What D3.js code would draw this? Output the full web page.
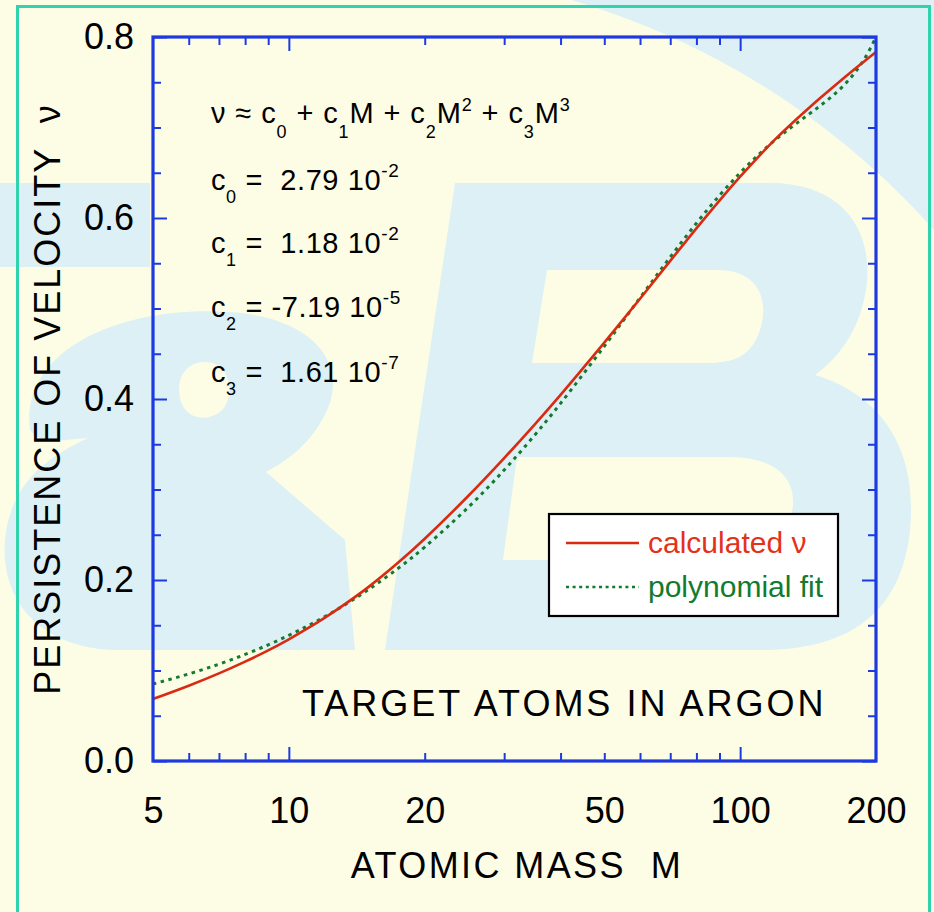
<!DOCTYPE html>
<html>
<head>
<meta charset="utf-8">
<script src="https://cdn.jsdelivr.net/npm/d3@7"></script>
<style>
  html, body { margin: 0; padding: 0; background: #fdfde6; }
  svg { display: block; }
  text { font-family: "Liberation Sans", Arial, Helvetica, sans-serif; white-space: pre; }
</style>
</head>
<body>
<script>
// ---- data -------------------------------------------------------------
// atomic mass of the target atom (log axis)
const massCalc = [5, 6, 7, 8, 9, 10, 11, 12, 13, 15, 17.5, 20, 25, 30, 35, 40, 50, 60, 70, 80, 90, 100, 110, 120, 130, 140, 150, 160, 170, 180, 190, 200];
// calculated persistence of velocity
const nuCalc = [0.0685, 0.0832, 0.0968, 0.1098, 0.1222, 0.1345, 0.1465, 0.1582, 0.1697, 0.1921, 0.2195, 0.2456, 0.2931, 0.3347, 0.3715, 0.4046, 0.4623, 0.5108, 0.5526, 0.5886, 0.6193, 0.6456, 0.6682, 0.6877, 0.7042, 0.7188, 0.7320, 0.7440, 0.7550, 0.7652, 0.7746, 0.7833];
// cubic polynomial fit, tabulated at the same masses
const nuFit = [0.0851, 0.0962, 0.1070, 0.1178, 0.1284, 0.1389, 0.1492, 0.1594, 0.1695, 0.1893, 0.2132, 0.2364, 0.2805, 0.3215, 0.3597, 0.3952, 0.4583, 0.5118, 0.5568, 0.5942, 0.6249, 0.6499, 0.6702, 0.6868, 0.7005, 0.7124, 0.7235, 0.7347, 0.7470, 0.7613, 0.7786, 0.7999];

const xLabelTicks = [5, 10, 20, 50, 100, 200];
const xMajorTicks = [10, 100];
const xMinorTicks = [6, 7, 8, 9, 20, 30, 40, 50, 60, 70, 80, 90];
const yLabelTicks = [0, 0.2, 0.4, 0.6, 0.8];
const yMinorTicks = [0.05, 0.1, 0.15, 0.25, 0.3, 0.35, 0.45, 0.5, 0.55, 0.65, 0.7, 0.75];

const coefNames = ["0", "1", "2", "3"];
const coefMantissa = [" 2.79", " 1.18", "-7.19", " 1.61"];
const coefExponent = ["-2", "-2", "-5", "-7"];

// ---- layout -----------------------------------------------------------
const W = 934, H = 912;
const plot = { left: 153, right: 876, top: 37, bottom: 761 };
const FONT = '"Liberation Sans", Arial, Helvetica, sans-serif';
const frameBlue = "#1d3ae0";
const curveRed = "#d92a12";
const fitGreen = "#137a2e";
const washBlue = "#dcf0f5";
const cream = "#fdfde6";

const svg = d3.select("body").append("svg").attr("width", W).attr("height", H);
svg.append("rect").attr("width", W).attr("height", H).attr("fill", cream);

// ---- faint logo in the background ----------------------------------------
const wm = svg.append("g");
wm.append("clipPath").attr("id", "arcClip").append("rect")
  .attr("x", 450).attr("y", 0).attr("width", 484).attr("height", 650);
// sweeping arc at the upper right: everything outside a large circle
const cx = 350, cy = 750, r = 782;
wm.append("path").attr("clip-path", "url(#arcClip)")
  .attr("fill", washBlue).attr("fill-rule", "evenodd")
  .attr("d", `M0,0 H934 V912 H0 Z M${cx - r},${cy} a${r},${r} 0 1,0 ${2 * r},0 a${r},${r} 0 1,0 ${-2 * r},0 Z`);
// letter B with its two counters
wm.append("path").attr("fill", washBlue).attr("fill-rule", "evenodd")
  .attr("d", "M455,183 L770,183 C850,183 878,240 864,300 C856,335 836,360 815,375 C882,395 918,450 910,530 C902,610 852,650 762,650 L385,650 Z " +
             "M547,270 L718,270 C758,270 770,300 760,330 C752,355 735,363 708,363 L532,363 Z " +
             "M517,457 L728,457 C788,457 800,490 790,520 C780,550 758,560 718,560 L503,560 Z");
// ampersand
wm.append("path").attr("fill", washBlue).attr("fill-rule", "evenodd")
  .attr("d", "M0,183 L150,183 L150,267 L0,267 Z " +
             "M30,430 C20,350 120,305 230,312 C320,318 352,370 322,420 C308,445 288,460 266,472 L345,540 L355,650 L120,650 C40,650 0,600 5,540 C10,485 45,458 88,438 C62,440 40,445 30,430 Z " +
             "M205,362 C228,362 236,390 224,408 C210,424 184,420 180,398 C176,378 186,362 205,362 Z");

// outer mint frame
svg.append("rect").attr("x", 17.5).attr("y", 6.5).attr("width", 912).attr("height", 930)
  .attr("fill", "none").attr("stroke", "#2fd4ad").attr("stroke-width", 3);

// ---- scales -------------------------------------------------------------
const x = d3.scaleLog().domain([5, 200]).range([plot.left, plot.right]);
const y = d3.scaleLinear().domain([0, 0.8]).range([plot.bottom, plot.top]);

// ---- curves -------------------------------------------------------------
svg.append("clipPath").attr("id", "plotClip").append("rect")
  .attr("x", plot.left).attr("y", plot.top)
  .attr("width", plot.right - plot.left).attr("height", plot.bottom - plot.top);

const line = d3.line().x(d => x(d[0])).y(d => y(d[1])).curve(d3.curveCatmullRom.alpha(0.5));
const curves = svg.append("g").attr("clip-path", "url(#plotClip)");
curves.append("path").datum(massCalc.map((m, i) => [m, nuFit[i]]))
  .attr("d", line).attr("fill", "none").attr("stroke", fitGreen)
  .attr("stroke-width", 3).attr("stroke-dasharray", "3.5,4.5");
curves.append("path").datum(massCalc.map((m, i) => [m, nuCalc[i]]))
  .attr("d", line).attr("fill", "none").attr("stroke", curveRed)
  .attr("stroke-width", 2.6);

// ---- axes and frame -----------------------------------------------------
function styleAxis(g) {
  g.select(".domain").remove();
  g.selectAll("line").attr("stroke", frameBlue).attr("stroke-width", 2);
}
const blank = () => "";
// inward ticks on all four sides
svg.append("g").attr("transform", `translate(0,${plot.bottom})`)
  .call(d3.axisBottom(x).tickValues(xMinorTicks).tickSize(-8).tickFormat(blank)).call(styleAxis);
svg.append("g").attr("transform", `translate(0,${plot.bottom})`)
  .call(d3.axisBottom(x).tickValues(xMajorTicks).tickSize(-14).tickFormat(blank)).call(styleAxis);
svg.append("g").attr("transform", `translate(0,${plot.top})`)
  .call(d3.axisTop(x).tickValues(xMinorTicks).tickSize(-8).tickFormat(blank)).call(styleAxis);
svg.append("g").attr("transform", `translate(0,${plot.top})`)
  .call(d3.axisTop(x).tickValues(xMajorTicks).tickSize(-14).tickFormat(blank)).call(styleAxis);
svg.append("g").attr("transform", `translate(${plot.left},0)`)
  .call(d3.axisLeft(y).tickValues(yMinorTicks).tickSize(-8).tickFormat(blank)).call(styleAxis);
svg.append("g").attr("transform", `translate(${plot.left},0)`)
  .call(d3.axisLeft(y).tickValues(yLabelTicks).tickSize(-14).tickFormat(blank)).call(styleAxis);
svg.append("g").attr("transform", `translate(${plot.right},0)`)
  .call(d3.axisRight(y).tickValues(yMinorTicks).tickSize(-8).tickFormat(blank)).call(styleAxis);
svg.append("g").attr("transform", `translate(${plot.right},0)`)
  .call(d3.axisRight(y).tickValues(yLabelTicks).tickSize(-14).tickFormat(blank)).call(styleAxis);

svg.append("rect").attr("x", plot.left).attr("y", plot.top)
  .attr("width", plot.right - plot.left).attr("height", plot.bottom - plot.top)
  .attr("fill", "none").attr("stroke", frameBlue).attr("stroke-width", 3.2);

// tick labels
const xLab = svg.append("g").attr("transform", `translate(0,${plot.bottom})`)
  .call(d3.axisBottom(x).tickValues(xLabelTicks).tickSize(0).tickPadding(36).tickFormat(d3.format("d")));
xLab.select(".domain").remove();
xLab.selectAll("text").attr("font-size", 36).attr("font-family", FONT).attr("fill", "#000");

const yLab = svg.append("g").attr("transform", `translate(${plot.left},0)`)
  .call(d3.axisLeft(y).tickValues(yLabelTicks).tickSize(0).tickPadding(19).tickFormat(d3.format(".1f")));
yLab.select(".domain").remove();
yLab.selectAll("text").attr("font-size", 36).attr("font-family", FONT).attr("fill", "#000");

// axis titles
svg.append("text").attr("x", 517).attr("y", 878).attr("text-anchor", "middle")
  .attr("font-size", 36).attr("letter-spacing", 2.4).text("ATOMIC MASS  M");
svg.append("text").attr("transform", `translate(60,${(plot.top + plot.bottom) / 2}) rotate(-90)`)
  .attr("text-anchor", "middle").attr("font-size", 36).attr("letter-spacing", 2)
  .text("PERSISTENCE OF VELOCITY  \u03BD");

// ---- annotations ----------------------------------------------------------
svg.append("text").attr("x", 302).attr("y", 716).attr("font-size", 36)
  .attr("letter-spacing", 3).text("TARGET ATOMS IN ARGON");

// fit formula
const eq = svg.append("text").attr("x", 211).attr("y", 123).attr("font-size", 29).attr("letter-spacing", 0.9);
const eqParts = [
  ["\u03BD \u2248 c", 0, 29], ["0", 15, 18], [" + c", -15, 29], ["1", 15, 18], ["M + c", -15, 29],
  ["2", 15, 18], ["M", -15, 29], ["2", -12, 18], [" + c", 12, 29], ["3", 15, 18], ["M", -15, 29], ["3", -12, 18]
];
eqParts.forEach(([t, dy, fs]) => eq.append("tspan").attr("dy", dy).attr("font-size", fs).text(t));

// coefficient values
const coefBase = [190, 253, 317, 382];
coefNames.forEach((n, i) => {
  const t = svg.append("text").attr("x", 211).attr("y", coefBase[i]).attr("font-size", 29).attr("letter-spacing", 0.6);
  t.append("tspan").text("c");
  t.append("tspan").attr("dy", 13).attr("font-size", 18).text(n);
  t.append("tspan").attr("dy", -13).text(" = " + coefMantissa[i] + " 10");
  t.append("tspan").attr("dy", -13).attr("font-size", 19).text(coefExponent[i]);
});

// ---- legend -------------------------------------------------------------
const lg = svg.append("g");
lg.append("rect").attr("x", 549).attr("y", 514).attr("width", 289).attr("height", 102)
  .attr("fill", "#fff").attr("stroke", "#000").attr("stroke-width", 2.2);
lg.append("line").attr("x1", 566).attr("x2", 639).attr("y1", 543).attr("y2", 543)
  .attr("stroke", curveRed).attr("stroke-width", 2.4);
lg.append("line").attr("x1", 566).attr("x2", 639).attr("y1", 587).attr("y2", 587)
  .attr("stroke", fitGreen).attr("stroke-width", 2.4).attr("stroke-dasharray", "3,3.6");
lg.append("text").attr("x", 648).attr("y", 553).attr("font-size", 30).attr("fill", "#e3321a").text("calculated \u03BD");
lg.append("text").attr("x", 648).attr("y", 597).attr("font-size", 30).attr("fill", fitGreen).text("polynomial fit");
</script>
</body>
</html>
